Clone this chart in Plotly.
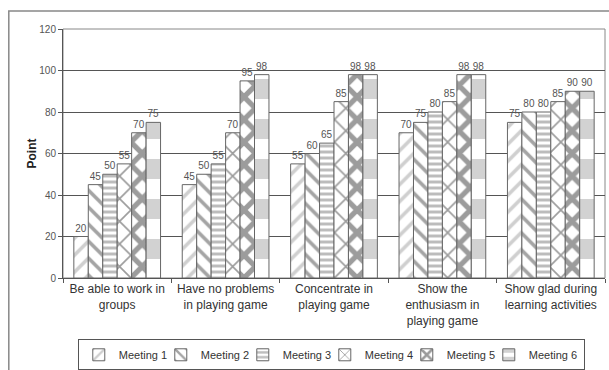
import plotly.graph_objects as go

categories = [
    "Be able to work in<br>groups",
    "Have no problems<br>in playing game",
    "Concentrate in<br>playing game",
    "Show the<br>enthusiasm in<br>playing game",
    "Show glad during<br>learning activities",
]
meeting_names = ["Meeting 1", "Meeting 2", "Meeting 3", "Meeting 4", "Meeting 5", "Meeting 6"]
meeting_1 = [20, 45, 55, 70, 75]
meeting_2 = [45, 50, 60, 75, 80]
meeting_3 = [50, 55, 65, 80, 80]
meeting_4 = [55, 70, 85, 85, 85]
meeting_5 = [70, 95, 98, 98, 90]
meeting_6 = [75, 98, 98, 98, 90]
series = [meeting_1, meeting_2, meeting_3, meeting_4, meeting_5, meeting_6]
y_ticks = [0, 20, 40, 60, 80, 100, 120]

# monochrome fill patterns, one per meeting
patterns = [
    dict(shape="/", fgcolor="#a0a0a0", bgcolor="white", size=12, solidity=0.3),
    dict(shape="\\", fgcolor="#4a4a4a", bgcolor="white", size=12, solidity=0.3),
    dict(shape="-", fgcolor="#7a7a7a", bgcolor="white", size=6, solidity=0.5),
    dict(shape="x", fgcolor="#3a3a3a", bgcolor="white", size=16, solidity=0.2),
    dict(shape="x", fgcolor="#3a3a3a", bgcolor="white", size=16, solidity=0.55),
    dict(shape="-", fgcolor="#a6a6a6", bgcolor="white", size=40, solidity=0.5),
]
# legend entry widths (last one needs room for its text inside the box)
legend_widths = [37, 37, 37, 37, 37, 50]

fig = go.Figure()
for name, vals, pat, lw in zip(meeting_names, series, patterns, legend_widths):
    fig.add_trace(go.Bar(
        name=name,
        x=categories,
        y=vals,
        text=[str(v) for v in vals],
        textposition="outside",
        textfont=dict(family="Arial", size=10, color="#555555"),
        cliponaxis=False,
        legendwidth=lw,
        marker=dict(color="white", pattern=pat,
                    line=dict(color="#666666", width=1)),
    ))

fig.update_layout(
    width=609, height=370,
    margin=dict(l=63, r=4, t=29, b=92),
    paper_bgcolor="white",
    plot_bgcolor="white",
    barmode="group",
    bargap=0.2,
    bargroupgap=0,
    font=dict(family="Arial", color="#333333"),
    legend=dict(
        orientation="h",
        x=0.495, xanchor="center",
        yref="container",
        y=0.083, yanchor="top",
        bordercolor="#555555", borderwidth=1,
        font=dict(size=11, color="#333333"),
        itemwidth=30,
        tracegroupgap=0,
    ),
    showlegend=True,
)

fig.update_xaxes(
    showline=True, linecolor="#555555", linewidth=1,
    ticks="outside", ticklen=4, tickcolor="#555555",
    tickson="boundaries",
    tickfont=dict(size=12, color="#333333"),
    mirror=False,
    automargin=False,
)
fig.update_yaxes(
    range=[0, 120],
    tickvals=y_ticks,
    showline=True, linecolor="#555555", linewidth=1,
    ticks="outside", ticklen=4, tickcolor="#555555",
    showgrid=True, gridcolor="#555555", gridwidth=1,
    zeroline=False,
    tickfont=dict(size=10, color="#555555"),
    title=dict(text="<b>Point</b>", font=dict(size=12, color="#222222"), standoff=0),
    automargin=False,
)

# frame around the plotting area (top and right) and around the whole chart
fig.add_shape(type="rect", xref="paper", yref="paper", x0=0, x1=1, y0=0, y1=1,
              line=dict(color="#888888", width=1), layer="below")
fig.add_shape(type="rect", xref="paper", yref="paper", x0=-0.1, x1=1.01, y0=-0.5, y1=1.072,
              line=dict(color="#888888", width=1.5), layer="below")

fig.write_html("out.html")
